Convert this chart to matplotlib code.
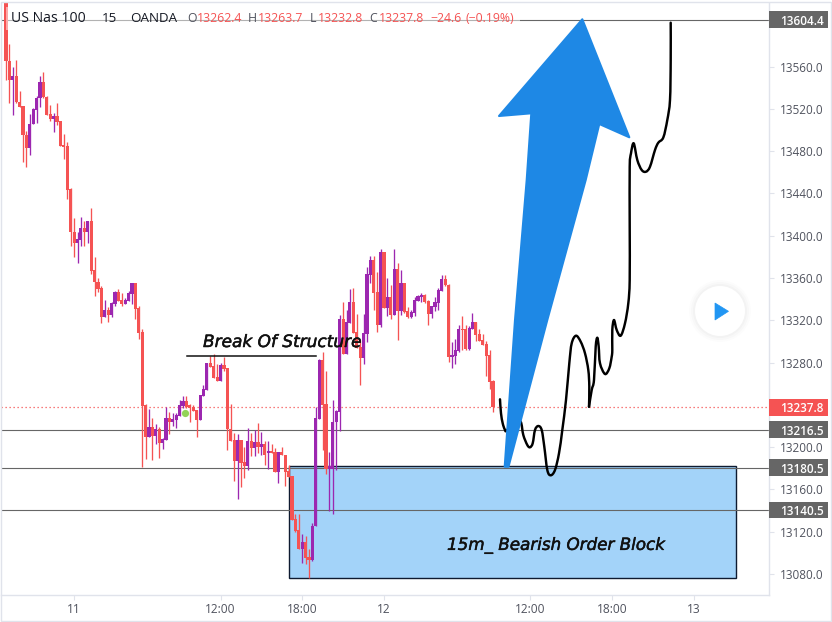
import matplotlib
matplotlib.use("Agg")
import matplotlib.pyplot as plt
import matplotlib.patheffects as pe
from matplotlib.patches import Rectangle, Polygon, Circle, PathPatch
from matplotlib.path import Path

opens = [13621,13565,13547,13551,13527,13523,13495,13483,13506,13519,13530,13545,13531,13515,13510,13513,13509,13486,13485,13444,
 13404,13393,13396,13407,13404,13414,13368,13356,13351,13323,13330,13325,13335,13347,13339,13335,13338,13345,13355,13332,
 13309,13240,13210,13219,13211,13217,13204,13207,13228,13224,13226,13229,13239,13244,13240,13238,13235,13226,13248,13254,
 13280,13277,13266,13263,13278,13275,13217,13207,13187,13207,13186,13182,13206,13199,13205,13200,13203,13194,13196,13195,
 13176,13195,13193,13177,13173,13132,13122,13104,13110,13096,13093,13125,13227,13282,13241,13179,13179,13224,13233,13321,
 13288,13317,13337,13309,13295,13284,13307,13363,13377,13347,13316,13385,13332,13342,13325,13369,13329,13355,13329,13323,
 13327,13338,13342,13344,13338,13326,13333,13336,13348,13359,13353,13285,13286,13291,13312,13312,13293,13312,13318,13307,
 13301,13298,13287,13262.4]
highs = [13621,13581,13560,13566,13537,13523,13499,13515,13521,13532,13551,13555,13532,13524,13516,13526,13509,13496,13489,13445,
 13417,13404,13418,13414,13414,13426,13380,13360,13352,13339,13333,13337,13348,13350,13346,13341,13348,13355,13355,13334,
 13312,13241,13236,13228,13222,13219,13209,13238,13233,13232,13232,13245,13248,13248,13241,13240,13235,13249,13259,13280,
 13286,13288,13279,13280,13285,13275,13241,13213,13212,13207,13200,13218,13213,13216,13223,13214,13206,13206,13203,13199,
 13195,13200,13193,13183,13173,13137,13137,13118,13116,13104,13128,13238,13283,13290,13272,13195,13245,13235,13325,13337,
 13330,13350,13351,13326,13301,13326,13370,13381,13381,13366,13387,13385,13360,13353,13387,13374,13368,13355,13333,13330,
 13342,13344,13346,13345,13339,13334,13342,13351,13363,13363,13354,13299,13302,13316,13324,13316,13315,13327,13318,13312,
 13307,13300,13292,13263.7]
lows = [13547,13526,13514,13526,13522,13470,13465,13476,13506,13507,13522,13530,13514,13509,13498,13505,13485,13473,13435,13390,
 13380,13374,13390,13390,13393,13364,13343,13347,13317,13323,13318,13323,13334,13338,13334,13335,13338,13335,13321,13302,
 13181,13189,13210,13188,13203,13190,13198,13207,13212,13220,13218,13229,13237,13237,13224,13234,13210,13226,13248,13254,
 13276,13265,13263,13263,13272,13197,13206,13168,13151,13162,13171,13178,13192,13192,13194,13193,13183,13179,13194,13176,
 13166,13193,13163,13172,13131,13120,13104,13090,13089,13076,13092,13125,13227,13197,13175,13140,13137,13178,13215,13288,
 13288,13317,13308,13294,13259,13279,13299,13355,13330,13309,13314,13332,13324,13321,13325,13301,13325,13327,13322,13322,
 13324,13338,13337,13336,13316,13322,13329,13330,13348,13352,13281,13275,13279,13290,13292,13292,13292,13312,13300,13300,
 13297,13267,13255,13232.8]
closes = [13565,13547,13551,13527,13522,13495,13483,13506,13520,13530,13545,13531,13514,13510,13513,13508,13485,13484,13443,13404,
 13393,13397,13407,13404,13414,13367,13356,13350,13323,13330,13325,13336,13347,13338,13335,13339,13346,13355,13331,13308,
 13239,13210,13219,13211,13217,13204,13208,13228,13224,13227,13230,13240,13244,13238,13237,13234,13226,13249,13255,13280,
 13276,13265,13263,13278,13274,13217,13206,13187,13207,13185,13182,13206,13199,13205,13200,13203,13193,13196,13194,13176,
 13195,13193,13176,13172,13131,13121,13104,13110,13095,13093,13125,13228,13282,13240,13179,13182,13224,13234,13321,13288,
 13318,13337,13308,13294,13284,13308,13364,13377,13346,13316,13385,13332,13342,13325,13369,13329,13355,13328,13323,13328,
 13339,13343,13344,13337,13326,13334,13337,13349,13359,13353,13285,13287,13292,13312,13311,13293,13313,13318,13306,13300,
 13297,13286,13262,13237.8]

price_ticks = [13560,13520,13480,13440,13400,13360,13320,13280,13200,13160,13120,13080]
time_tick_pos = [20,63,87,111,154,178,202]
time_tick_labels = ["11","12:00","18:00","12","12:00","18:00","13"]
level_prices = [13604.4,13216.5,13180.5,13140.5]
last_price = 13237.8
order_block_bars = (83.2,214.3)
order_block_prices = (13076,13182.4)
bos_bars = (53.1,91.0)
bos_price = 13286
marker_bar = 52.7
marker_price = 13232

# hand-drawn annotation shapes (figure pixel positions)
arrow_x = [582.3,629.3,599.3,585.7,547.3,508.5,504.7,515,526.7,531.3,499]
arrow_y = [19.3,137.3,124,180,320,466.7,466.7,320,180,113.3,116]
pen1_x = [500,501,502.7,504.7,506.7,515,520.7,523.3,527.3,530,532.7,535,538.3,541.7,544.3,547.3,550.7,555,559,562.3,566,569.3,571.7,576,
 580.7,585,588.3,589.3,589]
pen1_y = [399.3,413.3,423.3,429.3,430.7,420,421.7,435,445,447.3,443.3,430,426,430,446.7,470,475.3,470,453.3,430,400,363.3,343.3,335.7,
 341.7,353.3,370,386.7,406.7]
pen2_x = [589,591.7,594,595.7,597.3,598.7,600,605,609.3,611.7,612.3,612.3,614,616.7,620.7,625,628.3,629.7,629.7,629.7,631,633.7,
 637.3,641.7,646,650,655,658.3,663.3,667.3,670,670.7,670.7]
pen2_y = [406.7,390,380,346.7,337.7,346.7,363.3,374,368.3,356.7,350,330,320,330,335.7,323.3,303.3,280,225,166.7,153.3,143.3,
 160,170,171.7,166.7,150,142.7,137.5,120,100,60,22.7]

RED = "#F55353"
PURPLE = "#9C27B0"
GREY = "#666666"
AXC = "#E0E3EB"
TXT = "#50535E"
SANS = "Open Sans"

def smooth_path(xs, ys):
    pts = list(zip(xs, ys))
    verts = [pts[0]]
    codes = [Path.MOVETO]
    n = len(pts)
    for i in range(n-1):
        p0 = pts[max(i-1, 0)]
        p1 = pts[i]
        p2 = pts[i+1]
        p3 = pts[min(i+2, n-1)]
        c1 = (p1[0]+(p2[0]-p0[0])/6, p1[1]+(p2[1]-p0[1])/6)
        c2 = (p2[0]-(p3[0]-p1[0])/6, p2[1]-(p3[1]-p1[1])/6)
        verts += [c1, c2, p2]
        codes += [Path.CURVE4]*3
    return Path(verts, codes)

W, H = 832, 622
fig = plt.figure(figsize=(W/100, H/100), dpi=100, facecolor="white")
ax = fig.add_axes([1/W, (H-595)/H, 768/W, 592/H], zorder=1)
ax.set_xlim(-1.47, 224.08)
ax.set_ylim(13060.1, 13620.2)

ax.add_patch(Rectangle((order_block_bars[0], order_block_prices[0]),
                       order_block_bars[1]-order_block_bars[0],
                       order_block_prices[1]-order_block_prices[0],
                       fc="#A3D3F9", ec="#0E1A30", lw=1.0, zorder=1))
for p in level_prices:
    ax.axhline(p, color=GREY, lw=0.8, zorder=2)
ax.axhline(last_price, color=RED, lw=0.9, ls=(0, (1, 2.2)), zorder=2)

for i, (o, h, l, c) in enumerate(zip(opens, highs, lows, closes)):
    col = PURPLE if c >= o else RED
    ax.vlines(i, l, h, color=col, lw=0.95, zorder=3+i*0.001)
    ax.bar(i, abs(c-o), bottom=min(o, c), width=0.93, color=col, lw=0, zorder=3+i*0.001)

ax.plot([marker_bar], [marker_price], "o", ms=5.2, mfc="#86CF45", mec="none", alpha=0.9, zorder=4)
ax.plot(bos_bars, [bos_price, bos_price], color="#111111", lw=1.1, zorder=4)

for s in ("top", "left"):
    ax.spines[s].set_visible(False)
for s in ("right", "bottom"):
    ax.spines[s].set_color(AXC)
    ax.spines[s].set_linewidth(1.0)
ax.yaxis.tick_right()
ax.set_yticks(price_ticks)
ax.set_yticklabels([f"{p:.1f}" for p in price_ticks], fontsize=8.5, color=TXT, family=SANS, va="center_baseline")
ax.set_xticks(time_tick_pos)
ax.set_xticklabels(time_tick_labels, fontsize=8.6, color=TXT, family=SANS)
ax.tick_params(axis="y", length=3.6, width=0.8, color=AXC, pad=4.2)
ax.tick_params(axis="x", length=3.6, width=0.8, color=AXC, pad=2.2)

# price badges on the scale
ytr = ax.get_yaxis_transform()
badge_w = 59/768
badge_h = 16.7*0.946
for p, col in [(level_prices[0], GREY), (level_prices[1], GREY), (level_prices[2], GREY),
               (level_prices[3], GREY), (last_price, RED)]:
    ax.add_patch(Rectangle((1.0, p-badge_h/2), badge_w, badge_h, transform=ytr,
                           fc=col, ec="none", clip_on=False, zorder=6))
    ax.text(1.0143, p, f"{p:.1f}", transform=ytr, ha="left", va="center_baseline",
            color="white", fontsize=8.5, family=SANS, fontweight="semibold", zorder=7, clip_on=False)

ov = fig.add_axes([0, 0, 1, 1], zorder=5)
ov.set_xlim(0, W)
ov.set_ylim(H, 0)
ov.axis("off")
ov.patch.set_alpha(0)

ov.add_patch(Rectangle((1, 2), 830, 619, fc="none", ec=AXC, lw=1.0))
ov.add_patch(Rectangle((5.5, 7), 514, 23, fc="white", ec="none", alpha=0.5, zorder=1))

for xs, ys in ((pen1_x, pen1_y), (pen2_x, pen2_y)):
    ov.add_patch(PathPatch(smooth_path(xs, ys), fc="none", ec="black", lw=1.75,
                           capstyle="round", joinstyle="round", zorder=2))
ov.add_patch(Polygon(list(zip(arrow_x, arrow_y)), closed=True, fc="#1E88E5", ec="#1E88E5",
                     lw=1.5, joinstyle="round", zorder=3))

stroke = [pe.withStroke(linewidth=0.35, foreground="#111111")]
ov.text(203, 342, "Break Of Structure", family="DejaVu Sans", style="italic", fontsize=12.2,
        color="#111111", va="center", ha="left", zorder=4, path_effects=stroke)
ov.text(447, 545, "15m_ Bearish Order Block", family="DejaVu Sans", style="italic", fontsize=12.05,
        color="#111111", va="center", ha="left", zorder=4, path_effects=stroke)

hdr = [(11, "US Nas 100", 10.1, "#131722"), (102, "15", 9.6, "#131722"), (130, "OANDA", 9.6, "#131722"),
       (187, "O", 8.8, TXT), (197, "13262.4", 8.8, RED), (248, "H", 8.8, TXT), (258, "13263.7", 8.8, RED),
       (310, "L", 8.8, TXT), (318, "13232.8", 8.8, RED), (369, "C", 8.8, TXT), (379, "13237.8", 8.8, RED),
       (430, "\u221224.6", 8.8, RED), (466, "(\u22120.19%)", 8.8, RED)]
for x, s, fs, col in hdr:
    ov.text(x, 19, s, fontsize=fs, color=col, family=SANS, va="center", ha="left", zorder=4)

# play button
for r, a in [(31, 0.012), (29, 0.015), (27, 0.02)]:
    ov.add_patch(Circle((720, 311), r, fc="#000000", ec="none", alpha=a, zorder=5))
ov.add_patch(Circle((720, 311), 25, fc="white", ec="none", zorder=6))
ov.add_patch(Polygon([(715, 303), (728.5, 311.3), (715, 320)], closed=True, fc="#2196F3", ec="#2196F3",
                     lw=0.5, zorder=7))

fig.savefig("out.png", dpi=100, facecolor="white")
